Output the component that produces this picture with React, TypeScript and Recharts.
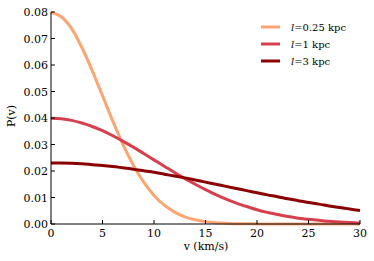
import React from 'react';
import { LineChart, Line, XAxis, YAxis, Legend } from 'recharts';

const vValues = [0, 1, 2, 3, 4, 5, 6, 7, 8, 9, 10, 11, 12, 13, 14, 15, 16, 17, 18, 19, 20, 21, 22, 23, 24, 25, 26, 27, 28, 29, 30];
const pL025 = [0.0798, 0.0782, 0.0737, 0.0666, 0.0579, 0.0484, 0.0388, 0.0299, 0.0222, 0.0158, 0.0108, 0.0071, 0.0045, 0.0027, 0.0016, 0.0009, 0.0005, 0.0003, 0.0001, 0.0001, 0.0, 0.0, 0.0, 0.0, 0.0, 0.0, 0.0, 0.0, 0.0, 0.0, 0.0];
const pL1 = [0.0399, 0.0397, 0.0391, 0.0381, 0.0368, 0.0352, 0.0333, 0.0312, 0.029, 0.0266, 0.0242, 0.0218, 0.0194, 0.0171, 0.015, 0.013, 0.0111, 0.0094, 0.0079, 0.0066, 0.0054, 0.0044, 0.0036, 0.0028, 0.0022, 0.0018, 0.0014, 0.001, 0.0008, 0.0006, 0.0004];
const pL3 = [0.023, 0.023, 0.0229, 0.0227, 0.0224, 0.0221, 0.0217, 0.0212, 0.0207, 0.0201, 0.0195, 0.0188, 0.0181, 0.0174, 0.0166, 0.0158, 0.015, 0.0142, 0.0134, 0.0126, 0.0118, 0.011, 0.0103, 0.0095, 0.0088, 0.0081, 0.0075, 0.0068, 0.0062, 0.0057, 0.0051];

const xTicks = [0, 5, 10, 15, 20, 25, 30];
const yTicks = [0, 0.01, 0.02, 0.03, 0.04, 0.05, 0.06, 0.07, 0.08];
const seriesKeys = ['l025', 'l1', 'l3'];
const seriesLabels = ['0.25 kpc', '1 kpc', '3 kpc'];
const seriesColors = ['#fca572', '#d6404e', '#8b0000'];

const data = vValues.map((v, i) => ({ v, l025: pL025[i], l1: pL1[i], l3: pL3[i] }));

const FONT = "'DejaVu Serif', serif";

const BottomTick = (props: any) => {
  const { x, y, payload } = props;
  return (
    <g>
      <line x1={x} x2={x} y1={y} y2={y - 4} stroke="#000" strokeWidth={1} />
      <text x={x} y={y + 13} textAnchor="middle" fontSize={11} fontFamily={FONT} fill="#000">
        {payload.value}
      </text>
    </g>
  );
};

const TopTick = (props: any) => {
  const { x, y } = props;
  return <line x1={x} x2={x} y1={y} y2={y + 4} stroke="#000" strokeWidth={1} />;
};

const LeftTick = (props: any) => {
  const { x, y, payload } = props;
  return (
    <g>
      <line x1={x} x2={x + 4} y1={y} y2={y} stroke="#000" strokeWidth={1} />
      <text x={x - 3} y={y + 4} textAnchor="end" fontSize={11} fontFamily={FONT} fill="#000">
        {Number(payload.value).toFixed(2)}
      </text>
    </g>
  );
};

const RightTick = (props: any) => {
  const { x, y } = props;
  return <line x1={x} x2={x - 4} y1={y} y2={y} stroke="#000" strokeWidth={1} />;
};

const LegendContent = () => (
  <svg width={110} height={55} style={{ display: 'block' }}>
    {seriesLabels.map((lab, i) => {
      const yy = 9 + i * 17;
      return (
        <g key={lab}>
          <line x1={3} x2={22} y1={yy} y2={yy} stroke={seriesColors[i]} strokeWidth={3} />
          <text x={33} y={yy + 3.5} fontSize={10} fontFamily={FONT} fill="#000">
            <tspan fontStyle="italic">l</tspan>
            {'=' + lab}
          </text>
        </g>
      );
    })}
  </svg>
);

const YLabel = () => (
  <text x={15} y={116} transform="rotate(-90, 15, 116)" textAnchor="middle" fontSize={11} fontFamily={FONT} fill="#000">
    P(v)
  </text>
);

const XLabel = () => (
  <text x={206} y={250} textAnchor="middle" fontSize={11} fontFamily={FONT} fill="#000">
    v (km/s)
  </text>
);

export default function App() {
  return (
    <div style={{ position: 'absolute', left: 0, top: 0 }}>
      <LineChart width={374} height={261} data={data} margin={{ top: 12, right: 14, bottom: 7, left: 11 }}>
        <XAxis
          xAxisId="bottom"
          dataKey="v"
          type="number"
          domain={[0, 30]}
          ticks={xTicks}
          interval={0}
          height={30}
          tickSize={0}
          tickMargin={0}
          tickLine={false}
          axisLine={{ stroke: '#000', strokeWidth: 1 }}
          tick={<BottomTick />}
          label={<XLabel />}
        />
        <XAxis
          xAxisId="top"
          orientation="top"
          dataKey="v"
          type="number"
          domain={[0, 30]}
          ticks={xTicks}
          interval={0}
          height={0}
          tickSize={0}
          tickMargin={0}
          tickLine={false}
          axisLine={{ stroke: '#000', strokeWidth: 1 }}
          tick={<TopTick />}
        />
        <YAxis
          yAxisId="left"
          type="number"
          domain={[0, 0.08]}
          ticks={yTicks}
          interval={0}
          width={40}
          tickSize={0}
          tickMargin={0}
          tickLine={false}
          axisLine={{ stroke: '#000', strokeWidth: 1 }}
          tick={<LeftTick />}
          label={<YLabel />}
        />
        <YAxis
          yAxisId="right"
          orientation="right"
          type="number"
          domain={[0, 0.08]}
          ticks={yTicks}
          interval={0}
          width={0}
          tickSize={0}
          tickMargin={0}
          tickLine={false}
          axisLine={{ stroke: '#000', strokeWidth: 1 }}
          tick={<RightTick />}
        />
        {seriesKeys.map((k, i) => (
          <Line
            key={k}
            xAxisId="bottom"
            yAxisId="left"
            type="monotone"
            dataKey={k}
            name={seriesLabels[i]}
            stroke={seriesColors[i]}
            strokeWidth={3}
            dot={false}
            activeDot={false}
            isAnimationActive={false}
          />
        ))}
        <Legend
          layout="horizontal"
          verticalAlign="middle"
          align="center"
          content={<LegendContent />}
          wrapperStyle={{ position: 'absolute', left: 258, top: 18, width: 110, height: 55 }}
        />
      </LineChart>
    </div>
  );
}
